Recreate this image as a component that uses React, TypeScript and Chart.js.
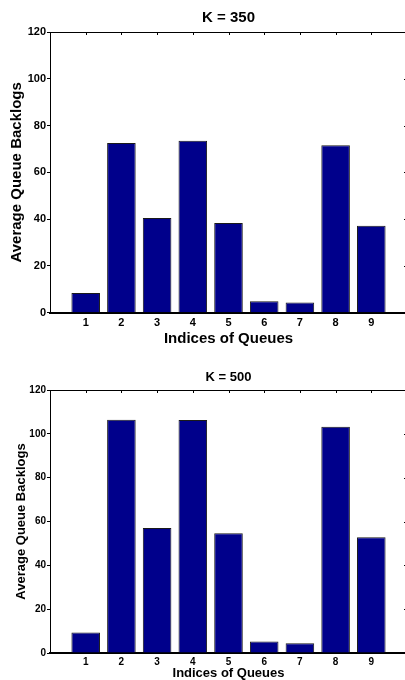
import React, { useEffect, useRef } from "react";
import { Chart, registerables } from "chart.js";

Chart.register(...registerables);

const QUEUE_INDICES = [1, 2, 3, 4, 5, 6, 7, 8, 9];
const K350_BACKLOGS = [8.4, 72.6, 40.5, 73.5, 38.4, 4.9, 4.4, 71.6, 37.2];
const K500_BACKLOGS = [9.3, 106.4, 57.0, 106.3, 54.6, 5.2, 4.4, 103.2, 52.8];
const Y_TICK_VALUES = [0, 20, 40, 60, 80, 100, 120];
const X_RANGE = [0, 10];
const TITLES = ["K = 350", "K = 500"];
const X_LABEL = "Indices of Queues";
const Y_LABEL = "Average Queue Backlogs";

const FONT = "'Liberation Sans', Arial, Helvetica, sans-serif";

type PanelProps = {
  top: number;
  height: number;
  title: string;
  values: number[];
  cfg: {
    titleSize: number;
    titlePadTop: number;
    titlePadBottom: number;
    labelSize: number;
    xLabelPadBottom: number;
    xLabelLineHeight: number;
    yLabelPadTop: number;
    tickSize: number;
    xTickPad: number;
    xAxisHeight: number;
  };
};

const framePlugin = {
  id: "matlabFrame",
  afterDraw(chart: any) {
    const { ctx, chartArea } = chart;
    const { left, right, top, bottom } = chartArea;
    const xs = chart.scales.x;
    const ys = chart.scales.y;
    ctx.save();
    ctx.strokeStyle = "#000";
    ctx.lineWidth = 1;
    ctx.beginPath();
    ctx.moveTo(left, top + 0.5);
    ctx.lineTo(right, top + 0.5);
    ctx.moveTo(right - 0.5, top);
    ctx.lineTo(right - 0.5, bottom);
    for (const v of QUEUE_INDICES) {
      const px = Math.round(xs.getPixelForValue(v)) + 0.5;
      ctx.moveTo(px, top);
      ctx.lineTo(px, top + 3);
    }
    for (const v of Y_TICK_VALUES) {
      const py = Math.round(ys.getPixelForValue(v)) + 0.5;
      ctx.moveTo(right, py);
      ctx.lineTo(right - 3, py);
    }
    ctx.stroke();
    ctx.restore();
  },
};

function Panel({ top, height, title, values, cfg }: PanelProps) {
  const ref = useRef<HTMLCanvasElement | null>(null);
  useEffect(() => {
    if (!ref.current) return;
    const chart = new Chart(ref.current, {
      type: "bar",
      data: {
        datasets: [
          {
            data: QUEUE_INDICES.map((x, i) => ({ x, y: values[i] })),
            backgroundColor: "#00008b",
            borderColor: "#1a1a1a",
            borderWidth: 1,
            barPercentage: 0.8,
            categoryPercentage: 1.0,
          },
        ],
      },
      options: {
        responsive: false,
        animation: false,
        layout: { padding: { left: 0, right: 13, top: 0, bottom: 0 } },
        plugins: {
          legend: { display: false },
          tooltip: { enabled: false },
          title: {
            display: true,
            text: title,
            fullSize: false,
            color: "#000",
            font: { family: FONT, size: cfg.titleSize, weight: "bold", lineHeight: 1.2 },
            padding: { top: cfg.titlePadTop, bottom: cfg.titlePadBottom },
          },
        },
        scales: {
          x: {
            type: "linear",
            offset: false,
            min: X_RANGE[0],
            max: X_RANGE[1],
            afterFit: (s: any) => {
              s.height = cfg.xAxisHeight;
            },
            grid: { display: false, drawTicks: false, offset: false },
            border: { display: true, color: "#000", width: 2 },
            ticks: {
              stepSize: 1,
              autoSkip: false,
              maxRotation: 0,
              padding: cfg.xTickPad,
              color: "#000",
              font: { family: FONT, size: cfg.tickSize, weight: "bold" },
              callback: (v: any) => (QUEUE_INDICES.includes(Number(v)) ? String(v) : ""),
            },
            title: {
              display: true,
              text: X_LABEL,
              color: "#000",
              font: { family: FONT, size: cfg.labelSize, weight: "bold", lineHeight: cfg.xLabelLineHeight },
              padding: { top: 0, bottom: cfg.xLabelPadBottom },
            },
          },
          y: {
            min: Y_TICK_VALUES[0],
            max: Y_TICK_VALUES[Y_TICK_VALUES.length - 1],
            afterFit: (s: any) => {
              s.width = 50;
            },
            grid: { display: true, drawOnChartArea: false, drawTicks: true, tickLength: 3, color: "#000" },
            border: { display: true, color: "#000", width: 1 },
            ticks: {
              stepSize: 20,
              padding: 1,
              color: "#000",
              font: { family: FONT, size: cfg.tickSize, weight: "bold" },
            },
            title: {
              display: true,
              text: Y_LABEL,
              color: "#000",
              font: { family: FONT, size: cfg.labelSize, weight: "bold", lineHeight: 1.2 },
              padding: { top: cfg.yLabelPadTop, bottom: 0 },
            },
          },
        },
      } as any,
      plugins: [framePlugin],
    });
    return () => chart.destroy();
  }, []);
  return (
    <canvas
      ref={ref}
      width={420}
      height={height}
      style={{ position: "absolute", left: 0, top, width: 420, height }}
    />
  );
}

export default function App() {
  return (
    <div
      style={{
        position: "absolute",
        left: 0,
        top: 0,
        width: 405,
        height: 680,
        overflow: "hidden",
        background: "#fff",
      }}
    >
      <Panel
        top={0}
        height={350}
        title={TITLES[0]}
        values={K350_BACKLOGS}
        cfg={{
          titleSize: 15,
          titlePadTop: 9,
          titlePadBottom: 5,
          labelSize: 15,
          xLabelPadBottom: 2,
          xLabelLineHeight: 1.2,
          yLabelPadTop: 7.5,
          tickSize: 11,
          xTickPad: 4,
          xAxisHeight: 37.3,
        }}
      />
      <Panel
        top={340}
        height={340}
        title={TITLES[1]}
        values={K500_BACKLOGS}
        cfg={{
          titleSize: 13,
          titlePadTop: 29.7,
          titlePadBottom: 4.7,
          labelSize: 13,
          xLabelPadBottom: 0,
          xLabelLineHeight: 1.0,
          yLabelPadTop: 13.5,
          tickSize: 10,
          xTickPad: 3,
          xAxisHeight: 27,
        }}
      />
    </div>
  );
}
